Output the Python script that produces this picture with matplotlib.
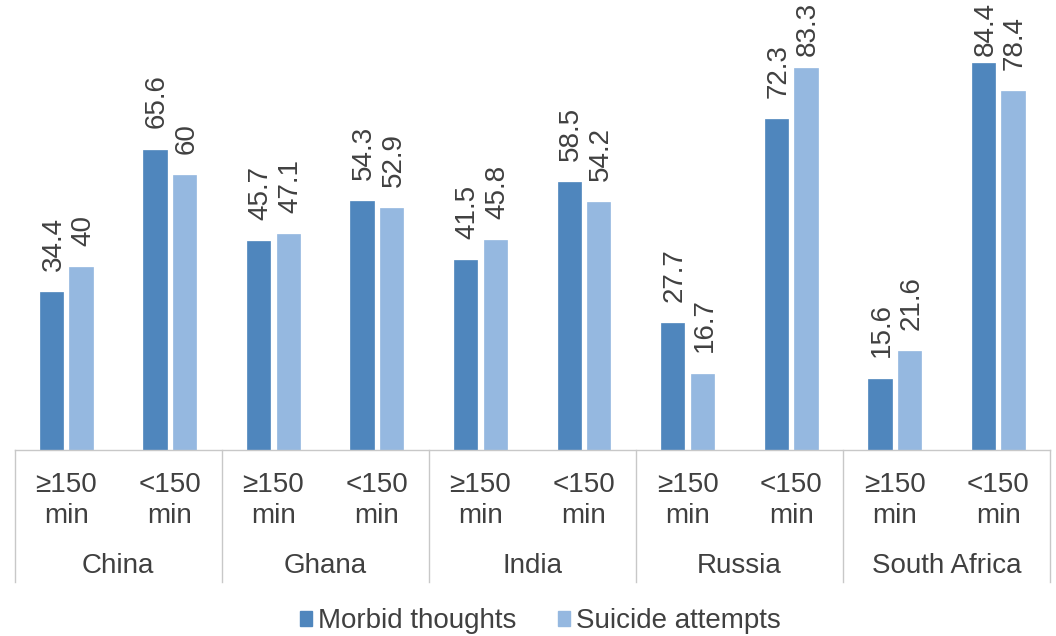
import numpy as np
import matplotlib.pyplot as plt
from matplotlib.patches import Patch

countries = ['China', 'Ghana', 'India', 'Russia', 'South Africa']
levels = ['\u2265150', '<150']
morbid = [34.4, 65.6, 45.7, 54.3, 41.5, 58.5, 27.7, 72.3, 15.6, 84.4]
suicide = [40, 60, 47.1, 52.9, 45.8, 54.2, 16.7, 83.3, 21.6, 78.4]
series_names = ['Morbid thoughts', 'Suicide attempts']

dark = '#4F86BD'
light = '#95B8E0'
txt = '#404040'
grid = '#C8C8C8'

plt.rcParams['font.family'] = ['Liberation Sans', 'DejaVu Sans']
plt.rcParams['font.size'] = 20

fig = plt.figure(figsize=(10.56, 6.36), dpi=100)
ax = fig.add_axes([14.5 / 1056, 186 / 636, 1035.5 / 1056, 450 / 636])

x = np.arange(len(morbid))
w = 0.225
off = 0.143
ymax = 98.25
ax.bar(x - off, morbid, w, color=dark, edgecolor=dark, linewidth=0.5)
ax.bar(x + off, suicide, w, color=light, edgecolor=light, linewidth=0.5)
ax.set_xlim(-0.5, len(morbid) - 0.5)
ax.set_ylim(0, ymax)
ax.axis('off')

# value labels, rotated; pushed down when they would leave the plot area
for xs, vals in ((x - off, morbid), (x + off, suicide)):
    for xi, v in zip(xs, vals):
        s = f'{v:g}'
        if v + 4.6 + 13 > ymax:
            ax.text(xi + 0.02, ymax - 0.4, s, rotation=90, ha='center', va='top',
                    color=txt, fontsize=20)
        else:
            ax.text(xi + 0.02, v + 4.6, s, rotation=90, ha='center', va='bottom',
                    color=txt, fontsize=20)

# category axis with separators
tr = ax.get_xaxis_transform()
ax.plot([-0.5, len(morbid) - 0.5], [0, 0], color=grid, lw=1, transform=tr, clip_on=False)
for b in np.arange(-0.5, len(morbid), 2):
    ax.plot([b, b], [0, -132 / 450], color=grid, lw=1, transform=tr, clip_on=False)

for i in range(len(morbid)):
    ax.text(i, -42 / 450, levels[i % 2], ha='center', va='baseline', color=txt,
            fontsize=20, transform=tr)
    ax.text(i, -73 / 450, 'min', ha='center', va='baseline', color=txt,
            fontsize=20, transform=tr)
for k, c in enumerate(countries):
    ax.text(2 * k + 0.5, -123 / 450, c, ha='center', va='baseline', color=txt,
            fontsize=20, transform=tr)

handles = [Patch(color=dark), Patch(color=light)]
fig.legend(handles, series_names, loc='center', bbox_to_anchor=(540 / 1056, 15 / 636),
           ncol=2, frameon=False, fontsize=20, handlelength=0.45, handleheight=0.45,
           handletextpad=0.2, columnspacing=1.5, labelcolor=txt)

fig.savefig('out.png', dpi=100)
